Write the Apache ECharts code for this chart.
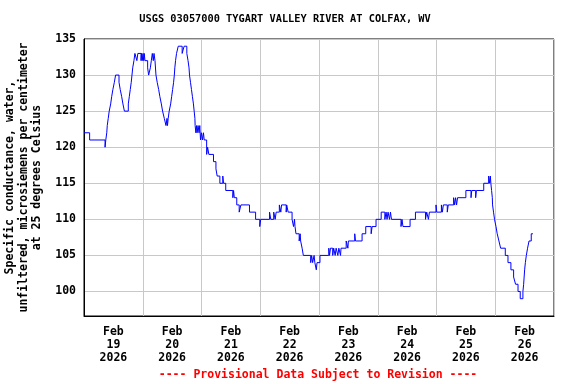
<!DOCTYPE html>
<html><head><meta charset="utf-8">
<script src="https://cdn.jsdelivr.net/npm/echarts@6/dist/echarts.min.js"></script>
<style>html,body{margin:0;padding:0;background:#fff}#c{width:576px;height:384px}</style>
</head><body><div id="c"></div>
<script>
// ---- data (hours after Feb 19 2026 00:00, specific conductance in uS/cm) ----
const hoursFromStart = [
  0, 2.3, 8.6, 8.9, 9.3, 9.5, 9.9, 10.3, 10.9, 11.3, 11.8, 12.4, 12.9, 14.3, 14.8, 15.4, 15.9, 16.5,
  18.1, 18.5, 18.9, 19.3, 19.6, 19.9, 20.4, 20.8, 21.6, 22.0, 23.3, 23.5, 23.8, 24.1, 24.4, 24.6, 24.9,
  26.0, 26.4, 27.1, 27.5, 27.9, 28.3, 28.6, 29.0, 29.4, 29.9, 30.5, 31.0, 31.6, 32.1, 32.8, 33.5, 33.9,
  34.1, 34.4, 34.8, 35.4, 35.8, 36.2, 36.6, 36.9, 37.1, 37.4, 37.8, 38.5, 40.1, 40.9, 42.0, 42.5, 42.9,
  43.1, 43.5, 43.9, 44.3, 44.7, 45.0, 45.3, 45.4, 45.7, 46.0, 46.2, 46.6, 47.0, 47.3, 47.6, 48.0, 48.4,
  48.8, 49.1, 50.1, 50.5, 51.0, 52.9, 53.9, 54.4, 55.5, 56.7, 57.0, 57.9, 60.8, 61.1, 61.4, 62.4, 63.4,
  64.1, 67.6, 70.1, 71.8, 72.2, 75.8, 76.3, 77.5, 78.1, 78.5, 79.8, 80.4, 80.7, 82.6, 82.8, 83.4, 85.0,
  85.6, 86.0, 86.2, 86.6, 87.9, 88.3, 88.5, 89.1, 89.6, 92.6, 93.0, 93.4, 94.0, 94.3, 94.9, 95.2, 96.4,
  100.0, 100.3, 100.7, 101.6, 102.0, 102.6, 103.0, 103.7, 104.1, 104.8, 105.0, 107.1, 107.8, 108.0,
  110.6, 110.9, 113.6, 115.1, 117.3, 117.7, 119.3, 121.4, 122.9, 123.4, 123.8, 124.2, 124.8, 125.2,
  125.6, 129.5, 129.9, 130.3, 133.2, 135.4, 139.5, 140.0, 140.7, 141.1, 143.8, 144.1, 146.0, 146.4,
  146.8, 148.4, 148.8, 151.0, 151.4, 151.8, 152.2, 152.6, 156.0, 158.1, 158.4, 160.0, 160.3, 163.3,
  165.3, 165.7, 166.0, 166.2, 166.5, 166.8, 166.9, 167.3, 167.7, 168.3, 168.8, 169.5, 170.2, 172.1,
  173.2, 174.4, 175.5, 176.3, 177.3, 178.2, 179.3, 179.6, 179.8, 180.0, 180.3, 180.7, 181.2, 181.8,
  182.7, 183.4
];
const conductance = [
  122, 121, 120, 121, 122, 123, 124, 125, 126, 127, 128, 129, 130, 129, 128, 127, 126, 125,
  126, 127, 128, 129, 130, 131, 132, 133, 132, 133, 132, 133, 132, 133, 132, 133, 132,
  131, 130, 131, 132, 133, 132, 133, 132, 130, 129, 128, 127, 126, 125, 124, 123, 124,
  123, 124, 125, 126, 127, 128, 129, 130, 131, 132, 133, 134, 133, 134, 133, 132, 131,
  130, 129, 128, 127, 126, 125, 124, 123, 122, 123, 122, 123, 122, 123, 121, 122, 121,
  122, 121, 119, 120, 119, 118, 117, 116, 115, 116, 115, 114, 113, 114, 113, 112, 111,
  112, 111, 110, 109, 110, 111, 110, 111, 110, 111, 112, 111, 112, 111, 112, 111, 110,
  109, 110, 109, 108, 107, 108, 107, 106, 105, 104, 105, 104, 105, 104, 103, 104, 105,
  106, 105, 106, 105, 106, 105, 106, 105, 106, 105, 106, 107, 106, 107,
  108, 107, 108, 109, 108, 109, 110, 111, 110, 111, 110, 111, 110, 111,
  110, 109, 110, 109, 110, 111, 110, 111, 110, 111, 112, 111, 112, 111,
  112, 111, 112, 113, 112, 113, 112, 113, 114, 113, 114, 113, 114, 115,
  116, 115, 116, 115, 114, 113, 112, 111, 110, 109, 108, 107, 106, 105,
  104, 103, 102, 101, 100, 99, 100, 101, 102, 103, 104, 105, 106, 107,
  108, 108
];
const tickMonth = 'Feb';
const tickYear = '2026';
const tickDays = [19, 20, 21, 22, 23, 24, 25, 26];
const yTicks = [100, 105, 110, 115, 120, 125, 130, 135];
const yMin = 96.6, yMax = 135;
const titleText = 'USGS 03057000 TYGART VALLEY RIVER AT COLFAX, WV';
const yName = 'Specific conductance, water,\nunfiltered, microsiemens per centimeter\nat 25 degrees Celsius';
const footerText = '---- Provisional Data Subject to Revision ----';

const FONT = '"DejaVu Sans Mono", "Liberation Mono", monospace';
const points = hoursFromStart.map((h, i) => [h, conductance[i]]);
const xMax = tickDays.length * 24;
const noonHours = tickDays.map((d, i) => i * 24 + 12);

const chart = echarts.init(document.getElementById('c'), null, {renderer: 'canvas'});
chart.setOption({
  animation: false,
  backgroundColor: '#fff',
  grid: {left: 84, right: 22, top: 39, bottom: 68, show: true, borderColor: '#000', borderWidth: 1,
         backgroundColor: 'transparent', containLabel: false, outerBoundsMode: 'none'},
  xAxis: {
    type: 'value', min: 0, max: xMax, interval: 24,
    axisLine: {show: true, lineStyle: {color: '#000', width: 1}},
    axisTick: {show: false},
    splitLine: {show: true, lineStyle: {color: '#c8c8c8', width: 1}},
    axisLabel: {
      customValues: noonHours,
      formatter: v => tickMonth + '\n' + tickDays[Math.floor(v / 24)] + '\n' + tickYear,
      fontFamily: FONT, fontWeight: 'bold', fontSize: 11.5, lineHeight: 13, color: '#000', margin: 9.5
    }
  },
  yAxis: {
    type: 'value', min: yMin, max: yMax,
    axisLine: {show: true, lineStyle: {color: '#000', width: 1}},
    axisTick: {show: false, customValues: yTicks},
    splitLine: {show: true, lineStyle: {color: '#c8c8c8', width: 1}},
    axisLabel: {customValues: yTicks, fontFamily: FONT, fontWeight: 'bold', fontSize: 11.5, color: '#000', margin: 8},
    name: yName, nameLocation: 'middle', nameRotate: 90, nameGap: 40,
    nameTextStyle: {fontFamily: FONT, fontWeight: 'bold', fontSize: 11.5, lineHeight: 13.5, color: '#000', align: 'center'}
  },
  graphic: [
    {type: 'text', x: 285, y: 19, style: {text: titleText, font: 'bold 10.3px ' + FONT, fill: '#000', align: 'center', verticalAlign: 'middle'}},
    {type: 'text', x: 318, y: 375, style: {text: footerText, font: 'bold 11.5px ' + FONT, fill: '#ff0000', align: 'center', verticalAlign: 'middle'}}
  ],
  series: [{
    type: 'line', data: points, step: 'end', showSymbol: false, symbol: 'none',
    lineStyle: {color: '#0000ff', width: 1}, clip: true
  }]
});
</script></body></html>
